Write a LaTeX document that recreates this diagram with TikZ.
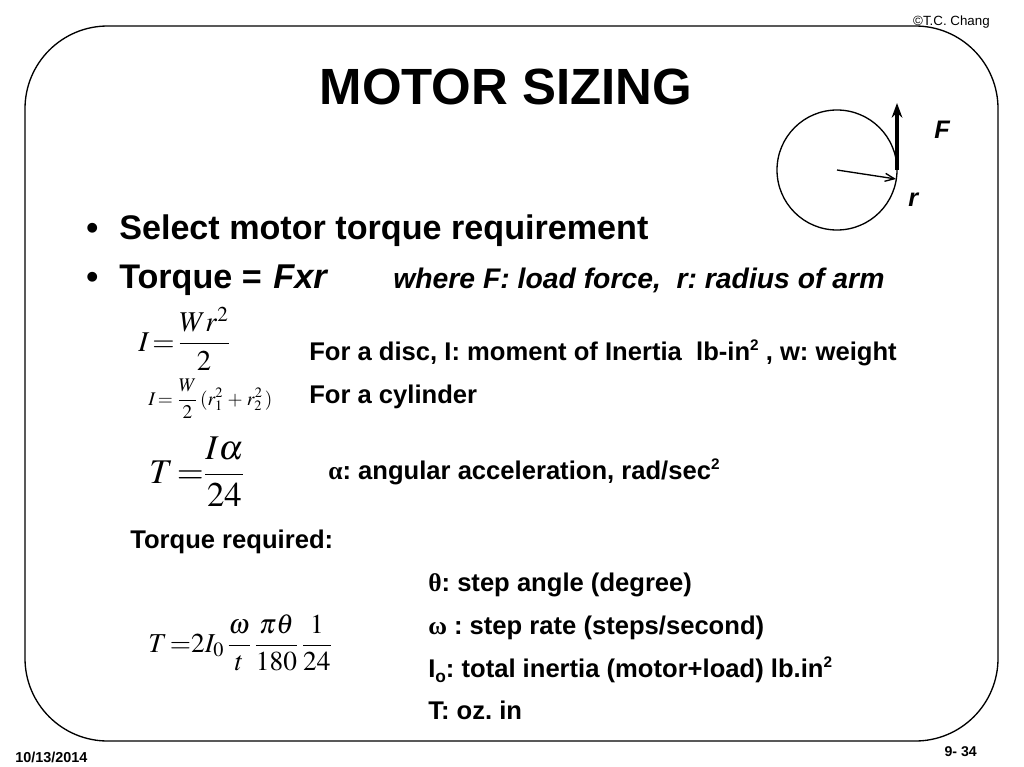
\documentclass[tikz,border=0pt]{standalone}
\usepackage{amsmath}
\usepackage{mathptmx}
\usepackage[no-math]{fontspec}
\setmainfont{Liberation Sans}
\usetikzlibrary{arrows.meta}
\newfontfamily\serifgreek{Liberation Serif}
\frenchspacing
\thickmuskip=2mu
\medmuskip=3mu
\tikzset{
  bodytext/.style={anchor=base west,inner sep=0pt,font=\bfseries\fontsize{19.2}{21}\selectfont},
  bigtext/.style={anchor=base west,inner sep=0pt,font=\bfseries\fontsize{25.6}{28}\selectfont},
  smalltext/.style={anchor=base west,inner sep=0pt,font=\bfseries\fontsize{10.8}{12}\selectfont},
  formula/.style={anchor=base west,inner sep=0pt},
}
\newcommand{\supr}[1]{\raisebox{0.38em}{\fontsize{11.5}{13}\selectfont #1}}
\begin{document}
\begin{tikzpicture}[x=0.75pt,y=-0.75pt]
\useasboundingbox (0,0) rectangle (1024,767);
\fill[white] (0,0) rectangle (1024,767);

% Frame
\draw[line width=1pt,rounded corners=62] (25,26) rectangle (998,741);

% Title and corners
\node[anchor=base,inner sep=0pt,font=\bfseries\fontsize{38.2}{42}\selectfont] (title) at (506,104) {MOTOR SIZING};
\node[anchor=base east,inner sep=0pt,font=\fontsize{10}{12}\selectfont] (copy) at (990,26) {\textcopyright T.C. Chang};
\node[smalltext] (date) at (15,762) {10/13/2014};
\node[anchor=base east,inner sep=0pt,font=\bfseries\fontsize{10.6}{12}\selectfont] (page) at (977,756) {9- 34};

% Wheel with force and radius
\draw[line width=1pt] (837,170) circle (60);
\coordinate (hub) at (837,170);
\coordinate (rim) at (896,179);
\coordinate (ftip) at (897,103);
\coordinate (fbase) at (897,170);
\draw[line width=2.5pt,-{Stealth[length=11pt,width=8pt]}] (fbase) -- (ftip);
\draw[line width=1pt,-{Straight Barb[length=7pt,width=6pt]}] (hub) -- (rim);
\node[bodytext,font=\bfseries\itshape\fontsize{19}{21}\selectfont] (lblF) at (934,138) {F};
\node[bodytext,font=\bfseries\itshape\fontsize{19}{21}\selectfont] (lblr) at (908,206) {r};

% Bullets
\node[bigtext] (bulA) at (86,239) {\textbullet};
\node[bigtext] (itemA) at (119,239) {Select motor torque requirement};
\node[bigtext] (bulB) at (86,288) {\textbullet};
\node[bigtext] (itemB) at (119,288) {Torque =};
\node[bigtext,font=\bfseries\itshape\fontsize{25.8}{28}\selectfont] (fxr) at (273,288) {Fxr};
\node[bodytext,font=\bfseries\itshape\fontsize{21.25}{23}\selectfont] (where) at (393,288) {where F: load force,\ \ r: radius of arm};

% Formulas
\node[formula,font=\fontsize{21.5}{24}\selectfont] (eqA) at (138,351) {$I=\dfrac{Wr^2}{2}$};
\node[formula,font=\fontsize{14.5}{17}\selectfont] (eqB) at (148,405) {$I=\mkern2mu\dfrac{W}{2}\,(r_1^2\mkern1mu+\mkern1mu r_2^2\,)$};
\node[formula,font=\fontsize{26}{29}\selectfont] (eqC) at (149,483) {$T=\mkern-2mu\dfrac{I\alpha}{24}$};
\node[formula,font=\fontsize{20.5}{23}\selectfont] (eqD) at (148,652) {$T=\mkern-2mu 2I_0\,\dfrac{\omega}{t}\mkern2mu\dfrac{\pi\theta}{180}\mkern2mu\dfrac{1}{24}$};

% Notes
\node[bodytext] (noteA) at (309,360) {For a disc, I: moment of Inertia\ \ lb-in\supr{2} , w: weight};
\node[bodytext] (noteB) at (309,403) {For a cylinder};
\node[bodytext] (noteC) at (328,479) {{\serifgreek α}: angular acceleration, rad/sec\supr{2}};
\node[bodytext] (noteD) at (130,548) {Torque required:};
\node[bodytext] (noteE) at (428,591) {{\serifgreek θ}: step angle (degree)};
\node[bodytext] (noteF) at (428,634) {{\serifgreek ω} : step rate (steps/second)};
\node[bodytext] (noteG) at (428,677) {I\raisebox{-0.2em}{\fontsize{13}{14}\selectfont o}: total inertia (motor+load) lb.in\supr{2}};
\node[bodytext] (noteH) at (428,719) {T: oz. in};
\end{tikzpicture}
\end{document}
